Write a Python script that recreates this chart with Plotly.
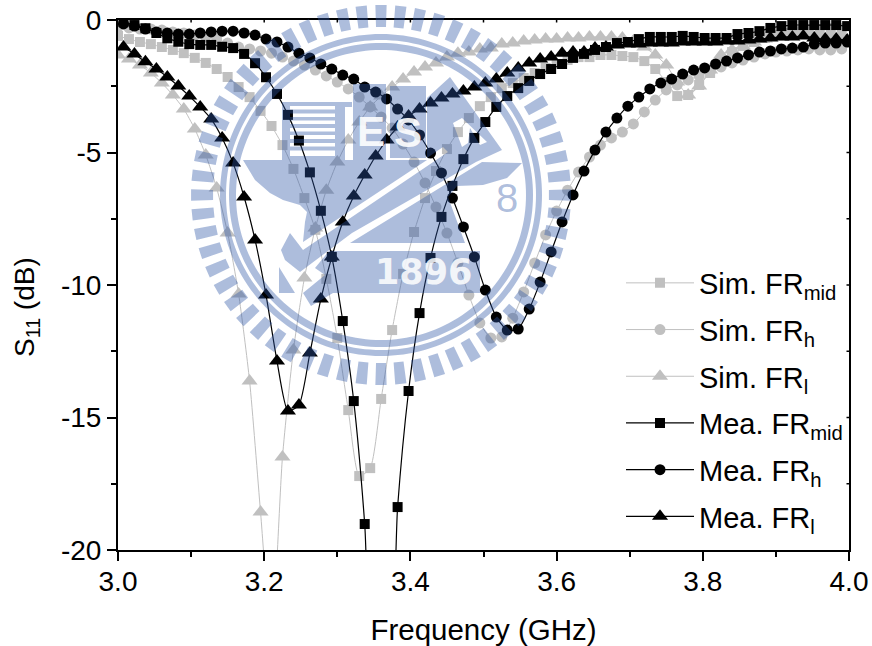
import numpy as np
import plotly.graph_objects as go

# Frequency sweeps (GHz)
sim_x = [3.000,3.015,3.030,3.045,3.060,3.075,3.090,3.105,3.120,3.135,3.150,3.165,3.180,3.195,3.210,3.225,3.240,
         3.255,3.270,3.285,3.300,3.315,3.330,3.345,3.360,3.375,3.390,3.405,3.420,3.435,3.450,3.465,3.480,3.495,
         3.510,3.525,3.540,3.555,3.570,3.585,3.600,3.615,3.630,3.645,3.660,3.675,3.690,3.705,3.720,3.735,3.750,
         3.765,3.780,3.795,3.810,3.825,3.840,3.855,3.870,3.885,3.900,3.915,3.930,3.945,3.960,3.975,3.990]
mea_x = [3.0075,3.0225,3.0375,3.0525,3.0675,3.0825,3.0975,3.1125,3.1275,3.1425,3.1575,3.1725,3.1875,3.2025,
         3.2175,3.2325,3.2475,3.2625,3.2775,3.2925,3.3075,3.3225,3.3375,3.3525,3.3675,3.3825,3.3975,3.4125,
         3.4275,3.4425,3.4575,3.4725,3.4875,3.5025,3.5175,3.5325,3.5475,3.5625,3.5775,3.5925,3.6075,3.6225,
         3.6375,3.6525,3.6675,3.6825,3.6975,3.7125,3.7275,3.7425,3.7575,3.7725,3.7875,3.8025,3.8175,3.8325,
         3.8475,3.8625,3.8775,3.8925,3.9075,3.9225,3.9375,3.9525,3.9675,3.9825,3.9975]

sim_mid = [-.6,-.72,-.83,-.91,-1.02,-1.13,-1.25,-1.43,-1.62,-1.85,-2.15,-2.53,-2.91,-3.43,-4.0,-4.72,-5.62,-6.72,
           -7.92,-9.77,-12.0,-14.72,-17.21,-16.91,-14.3,-11.7,-9.58,-8.0,-6.72,-5.7,-4.87,-4.23,-3.7,-3.25,-2.91,
           -2.57,-2.38,-2.19,-2.0,-1.81,-1.66,-1.51,-1.4,-1.4,-1.32,-1.32,-1.36,-1.4,-1.55,-1.85,-2.34,-2.87,-2.83,
           -2.45,-2.0,-1.58,-1.21,-.98,-.83,-.68,-.57,-.49,-.42,-.38,-.34,-.3,-.3]
sim_h = [-.26,-.3,-.34,-.34,-.38,-.45,-.49,-.57,-.64,-.72,-.87,-1.02,-1.09,-1.17,-1.25,-1.4,-1.55,-1.7,-1.89,-2.11,
         -2.34,-2.6,-2.91,-3.28,-3.66,-4.08,-4.68,-5.36,-6.15,-7.06,-8.04,-9.17,-10.38,-11.43,-12.0,-11.96,-11.25,
         -10.26,-9.17,-8.11,-7.21,-6.42,-5.74,-5.17,-4.72,-4.45,-4.23,-3.92,-3.47,-3.02,-2.64,-2.45,-2.26,-2.11,
         -1.96,-1.77,-1.62,-1.51,-1.4,-1.28,-1.21,-1.17,-1.13,-1.09,-1.13,-1.13,-1.09]
sim_l = [-1.32,-1.47,-1.7,-2.0,-2.38,-2.83,-3.36,-4.11,-5.09,-6.34,-8.04,-10.34,-13.62,-18.57,-23.4,-16.49,-12.45,
         -9.74,-7.85,-6.42,-5.36,-4.53,-3.85,-3.28,-2.87,-2.53,-2.23,-1.96,-1.77,-1.62,-1.4,-1.25,-1.21,-1.09,-1.06,
         -.91,-.87,-.79,-.75,-.72,-.72,-.68,-.68,-.64,-.64,-.64,-.68,-.79,-1.02,-1.32,-1.7,-2.34,-2.83,-2.49,-1.89,
         -1.32,-1.13,-.98,-.83,-.72,-.64,-.6,-.57,-.57,-.57,-.57,-.57]
mea_mid = [-.08,-.19,-.31,-.49,-.69,-.82,-.91,-.94,-.94,-1.01,-1.06,-1.28,-1.63,-2.16,-2.79,-3.58,-4.55,-5.75,-7.2,
           -8.94,-11.36,-14.38,-19.02,-26.0,-26.0,-18.38,-14.0,-11.06,-8.98,-7.43,-6.26,-5.25,-4.45,-3.85,-3.28,
           -2.87,-2.57,-2.3,-2.04,-1.85,-1.66,-1.43,-1.28,-1.13,-1.02,-.87,-.83,-.72,-.64,-.64,-.64,-.6,-.64,-.68,
           -.68,-.68,-.53,-.49,-.42,-.3,-.23,-.19,-.19,-.19,-.19,-.19,-.23]
mea_h = [-.15,-.23,-.34,-.45,-.49,-.53,-.53,-.49,-.45,-.42,-.42,-.49,-.57,-.72,-.83,-1.02,-1.25,-1.43,-1.66,-1.85,
         -2.08,-2.23,-2.53,-2.72,-2.98,-3.36,-3.77,-4.34,-5.02,-5.77,-6.72,-7.81,-8.94,-10.19,-11.21,-11.7,-11.66,
         -10.91,-9.89,-8.75,-7.62,-6.6,-5.7,-4.91,-4.23,-3.7,-3.25,-2.91,-2.6,-2.38,-2.23,-2.04,-1.89,-1.81,-1.66,
         -1.55,-1.43,-1.32,-1.21,-1.17,-1.09,-1.06,-1.02,-.91,-.87,-.87,-.83]
mea_l = [-1.02,-1.28,-1.58,-1.85,-2.15,-2.49,-2.87,-3.28,-3.74,-4.45,-5.4,-6.68,-8.3,-10.38,-12.87,-14.75,-14.53,
         -12.57,-10.53,-8.94,-7.62,-6.64,-5.85,-5.13,-4.53,-4.04,-3.62,-3.36,-3.13,-2.94,-2.79,-2.68,-2.53,-2.38,
         -2.23,-2.0,-1.81,-1.62,-1.47,-1.4,-1.25,-1.21,-1.21,-1.06,-1.02,-.94,-.91,-.91,-.87,-.87,-.87,-.83,-.83,
         -.83,-.83,-.79,-.79,-.75,-.72,-.68,-.64,-.64,-.6,-.68,-.72,-.72,-.75]

for s in (sim_mid, sim_h, sim_l, mea_mid, mea_h, mea_l):
    assert len(s) == 67

x_ticks = [3.0, 3.2, 3.4, 3.6, 3.8, 4.0]
x_labels = ["3.0", "3.2", "3.4", "3.6", "3.8", "4.0"]
y_ticks = [0, -5, -10, -15, -20]
y_labels = ["0", "-5", "-10", "-15", "-20"]

FONT = "Liberation Sans"
GREY = "#c0c0c0"

series = [
    ("Sim. FR<sub>l</sub>", sim_x, sim_l, GREY, "triangle-up", 14, 1, 3),
    ("Sim. FR<sub>mid</sub>", sim_x, sim_mid, GREY, "square", 10, 1, 1),
    ("Sim. FR<sub>h</sub>", sim_x, sim_h, GREY, "circle", 11, 1, 2),
    ("Mea. FR<sub>l</sub>", mea_x, mea_l, "black", "triangle-up", 14, 1.2, 6),
    ("Mea. FR<sub>mid</sub>", mea_x, mea_mid, "black", "square", 10, 1.2, 4),
    ("Mea. FR<sub>h</sub>", mea_x, mea_h, "black", "circle", 11, 1.2, 5),
]

fig = go.Figure()
for name, x, y, col, sym, size, w, rank in series:
    fig.add_trace(go.Scatter(
        x=x, y=y, name=name, mode="lines+markers", legendrank=rank, legendgroup=name,
        line=dict(color=col, width=w, shape="spline", smoothing=0.6),
        marker=dict(symbol=sym, size=size, color=col, line=dict(width=0)),
    ))

L, R, T, B = 118, 849, 20, 550
def P(px, py):
    return f"{(px-L)/(R-L):.5f},{(B-py)/(B-T):.5f}"
def poly(pts):
    return "M" + "L".join(P(*p) for p in pts) + "Z"
def rect(x0, y0, x1, y1):
    return poly([(x0, y0), (x1, y0), (x1, y1), (x0, y1)])

CX, CY = 381, 195
def circle(r, n=180):
    a = np.linspace(0, 2*np.pi, n, endpoint=False)
    return poly(list(zip(CX + r*np.cos(a), CY + r*np.sin(a))))

parts = []
for r in (161, 155, 152, 145):
    parts.append(circle(r))
for d in range(0, 360, 6):
    a0, a1 = np.radians(d - 1.7), np.radians(d + 1.7)
    parts.append(poly([(CX+168*np.cos(a0), CY+168*np.sin(a0)), (CX+190*np.cos(a0), CY+190*np.sin(a0)),
                       (CX+190*np.cos(a1), CY+190*np.sin(a1)), (CX+168*np.cos(a1), CY+168*np.sin(a1))]))
parts.append(poly([(282,102),(352,102),(352,107),(345,107),(345,160),(282,160)]))
for y0, y1 in [(106,109.5),(113.5,117),(120.5,124),(128,131.5),(135,139),(143,146.5),(150.5,156)]:
    parts.append(rect(290, y0, 335, y1))
parts.append(rect(353, 84, 386, 160))
parts.append(rect(390, 86, 426, 158))
parts.append(poly([(243,160),(427,160),(303,242),(305,222),(307,212),(300,205),(283,200),(270,193),(255,180)]))
parts.append(poly([(427,98),(450,77),(502,150),(476,162),(352,233),(300,272),(285,260),(281,250),(290,233),
                   (303,250),(448,152),(443,147),(427,158)]))
parts.append(poly([(453,123),(462,118),(487,142),(480,145),(470,128),(468,143),(462,147)]))
parts.append(poly([(522,163),(482,162),(350,243),(465,243),(448,197),(457,186),(483,185),(507,178)]))
parts.append(poly([(329,251),(480,251),(480,293),(333,293),(311,306),(303,293),(325,275),(315,268)]))
parts.append(poly([(279,267),(295,293),(279,293)]))

MARK = "rgba(45,85,165,0.39)"
fig.add_shape(type="path", xref="paper", yref="paper", path="".join(parts), fillcolor=MARK,
              line=dict(width=0), layer="above", fillrule="evenodd")

def page_text(text, px, py, size, color, family, opacity=1, angle=0):
    fig.add_annotation(text=text, xref="paper", yref="paper", x=(px-L)/(R-L), y=(B-py)/(B-T),
                       showarrow=False, xanchor="center", yanchor="middle", opacity=opacity,
                       textangle=angle, font=dict(size=size, color=color, family=family))
page_text("<b>1896</b>", 423, 272, 35, "white", "DejaVu Sans", 0.85)
page_text("<b>E</b>", 371, 132, 42, "white", FONT, 0.9)
page_text("<b>S</b>", 408, 133, 42, "white", FONT, 0.9)
page_text("8", 507, 198, 40, MARK, FONT)
page_text("S<sub>11</sub> (dB)", 26, 307, 28, "black", FONT, angle=-90)

for v in [3 + i*0.1 for i in range(1, 10)]:
    fig.add_shape(type="line", xref="x", yref="paper", x0=v, x1=v, y0=1, y1=1-2.5/(B-T),
                  line=dict(color="black", width=1.5), layer="below")
for v in [-2.5*i for i in range(1, 8)]:
    fig.add_shape(type="line", xref="paper", yref="y", x0=1, x1=1-2.5/(R-L), y0=v, y1=v,
                  line=dict(color="black", width=1.5), layer="below")

fig.update_layout(
    width=872, height=646,
    margin=dict(l=L, r=872-R, t=T, b=646-B, autoexpand=False),
    paper_bgcolor="white", plot_bgcolor="white",
    font=dict(family=FONT, size=28, color="black"),
    showlegend=True,
    legend=dict(x=(621-L)/(R-L), y=(B-257.5)/(B-T), xanchor="left", yanchor="top", bgcolor="rgba(0,0,0,0)",
                tracegroupgap=6, itemwidth=68, font=dict(size=29, family=FONT), itemclick=False),
    xaxis=dict(range=[3, 4], tickmode="array", tickvals=x_ticks, ticktext=x_labels,
               ticks="outside", ticklen=9, tickwidth=2, tickcolor="black", ticklabelstandoff=-4,
               minor=dict(dtick=0.1, ticks="outside", ticklen=5, tickwidth=2, tickcolor="black"),
               showline=True, linewidth=2, linecolor="black", mirror=True, showgrid=False, zeroline=False,
               title=dict(text="Frequency (GHz)", standoff=24, font=dict(size=29.5)),
               tickfont=dict(size=28), automargin=False),
    yaxis=dict(range=[-20, 0], tickmode="array", tickvals=y_ticks, ticktext=y_labels,
               ticks="outside", ticklen=9, tickwidth=2, tickcolor="black",
               minor=dict(dtick=2.5, ticks="outside", ticklen=5, tickwidth=2, tickcolor="black"),
               showline=True, linewidth=2, linecolor="black", mirror=True, showgrid=False, zeroline=False,
               tickfont=dict(size=28), automargin=False),
)
fig.write_html("out.html", config={"displayModeBar": False},
               post_script="document.body.style.margin='0';document.documentElement.style.overflow='hidden';")
